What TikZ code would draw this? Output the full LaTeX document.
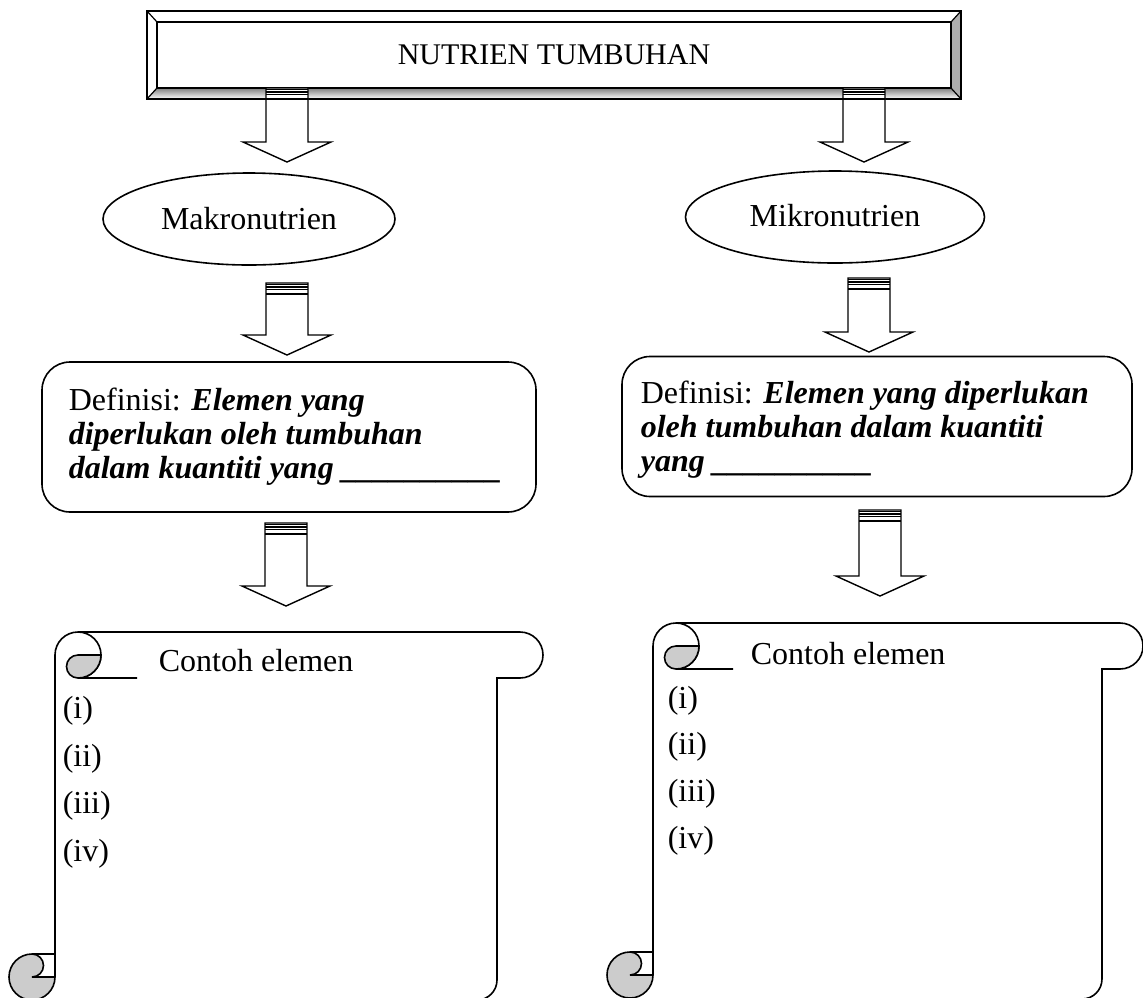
\documentclass[tikz,border=0pt]{standalone}
\usepackage{fontspec}
\setmainfont{Liberation Serif}
\usetikzlibrary{shapes.geometric}
\definecolor{shade}{HTML}{CCCCCC}

% down block arrow with a striped neck: #1 = centre x, #2 = top y, #3 = tip y
\newcommand\blockdown[3]{%
  \filldraw[fill=white, line width=1.4] ({#1-21},{#2}) -- ({#1+21},{#2}) -- ({#1+21},{#3-20})
    -- ({#1+44},{#3-20}) -- ({#1},{#3}) -- ({#1-44},{#3-20}) -- ({#1-21},{#3-20}) -- cycle;
  \foreach \s in {1.5,4,6.5,11}
    \draw[line width=1.3] ({#1-21},{#2+\s}) -- ({#1+21},{#2+\s});
}

% horizontal scroll: #1 body left x, #2 body right x, #3 top y,
% #4 end of the rolled tail line, #5 centre x of the right roll end,
% #6 centre y of the lower roll, #7 bottom y
\newcommand\scrollshape[7]{%
  % outline: upper left roll, top edge, right end, right side, lower corner
  \draw ({#1},{#3+23}) arc[start angle=180, end angle=270, radius=23]
    -- ({#5},{#3}) arc[start angle=-90, end angle=90, radius=23]
    -- ({#2},{#3+46}) -- ({#2},{#7-20}) arc[start angle=0, end angle=90, radius=20]
    -- ({#1-23},{#7});
  % rest of the upper roll and its tail
  \draw ({#1+23},{#3}) arc[start angle=-90, end angle=90, radius=23] -- ({#4},{#3+46});
  \filldraw[fill=shade] ({#1+46},{#3+23}) arc[start angle=0, end angle=90, radius=23]
    arc[start angle=90, end angle=270, radius=11.5] -- cycle;
  % left side
  \draw ({#1},{#3+23}) -- ({#1},{#6});
  % lower roll
  \filldraw[fill=shade] ({#1},{#6}) arc[start angle=0, end angle=270, radius=23]
    arc[start angle=-90, end angle=90, radius=11.5] -- cycle;
  \draw ({#1-23},{#6-23}) -- ({#1},{#6-23});
}

\begin{document}
\begin{tikzpicture}[x=1pt, y=-1pt, line width=1.6,
  txt/.style={font=\fontsize{32}{34}\selectfont, inner sep=0pt},
  oval/.style={draw, ellipse, inner sep=0pt, font=\fontsize{32}{34}\selectfont},
  defbox/.style={draw, rounded corners=28, inner sep=0pt},
  bi/.style={font=\fontsize{32}{34}\selectfont\bfseries\itshape, inner sep=0pt}]
\useasboundingbox (0,0) rectangle (1143,997);
\clip (0,0) rectangle (1143,997);

% title plate with bevelled frame
\fill[white] (147,11) -- (961,11) -- (951,22) -- (157,22) -- cycle;
\fill[white] (147,11) -- (157,22) -- (157,88) -- (147,99) -- cycle;
\fill[shade] (147,99) -- (157,88) -- (951,88) -- (961,99) -- cycle;
\fill[shade!85!black] (961,11) -- (951,22) -- (951,88) -- (961,99) -- cycle;
\draw[line width=1.5] (147,11) rectangle (961,99);
\node[draw, line width=1.5, minimum width=794, minimum height=66, inner sep=0pt] (title) at (554,55) {};
\node[font=\fontsize{30}{34}\selectfont, inner sep=0pt] (titletext) at (554,55) {NUTRIEN TUMBUHAN};
\draw[line width=1.2] (147,11) -- (157,22) (961,11) -- (951,22) (147,99) -- (157,88) (961,99) -- (951,88);

% first level
\blockdown{287}{88}{162}
\blockdown{864}{88}{162}
\node[oval, minimum width=292, minimum height=92] (makro) at (249,219) {Makronutrien};
\node[oval, minimum width=299, minimum height=92] (mikro) at (835,217) {\raisebox{3pt}{Mikronutrien}};

% definitions
\blockdown{287}{283}{355}
\blockdown{869}{278}{352}
\node[defbox, minimum width=494, minimum height=150] (defL) at (289,437) {};
\node[txt, anchor=base west] (defL1) at (68,410) {Definisi: \textbf{\textit{Elemen yang}}};
\node[bi, anchor=base west] (defL2) at (68,444) {diperlukan oleh tumbuhan};
\node[bi, anchor=base west] (defL3) at (68,478) {dalam kuantiti yang \_\_\_\_\_\_\_\_\_\_};
\node[defbox, minimum width=510, minimum height=140] (defR) at (877,426.5) {};
\node[txt, anchor=base west] (defR1) at (640,403) {Definisi: \textbf{\textit{Elemen yang diperlukan}}};
\node[bi, anchor=base west] (defR2) at (640,437) {oleh tumbuhan dalam kuantiti};
\node[bi, anchor=base west] (defR3) at (640,471) {yang \_\_\_\_\_\_\_\_\_\_};

% examples
\blockdown{286}{523}{606}
\blockdown{880}{510}{596}
\scrollshape{55}{497}{632}{137}{520}{977}{1000}
\scrollshape{653}{1102}{623}{733}{1120}{975}{999}
\node[txt, anchor=base west] (exL) at (158,671) {Contoh elemen};
\node[txt, anchor=base west] (exL1) at (62,718) {(i)};
\node[txt, anchor=base west] (exL2) at (62,766) {(ii)};
\node[txt, anchor=base west] (exL3) at (62,813) {(iii)};
\node[txt, anchor=base west] (exL4) at (62,861) {(iv)};
\node[txt, anchor=base west] (exR) at (750,664) {Contoh elemen};
\node[txt, anchor=base west] (exR1) at (667,708) {(i)};
\node[txt, anchor=base west] (exR2) at (667,754) {(ii)};
\node[txt, anchor=base west] (exR3) at (667,801) {(iii)};
\node[txt, anchor=base west] (exR4) at (667,848) {(iv)};
\end{tikzpicture}
\end{document}
